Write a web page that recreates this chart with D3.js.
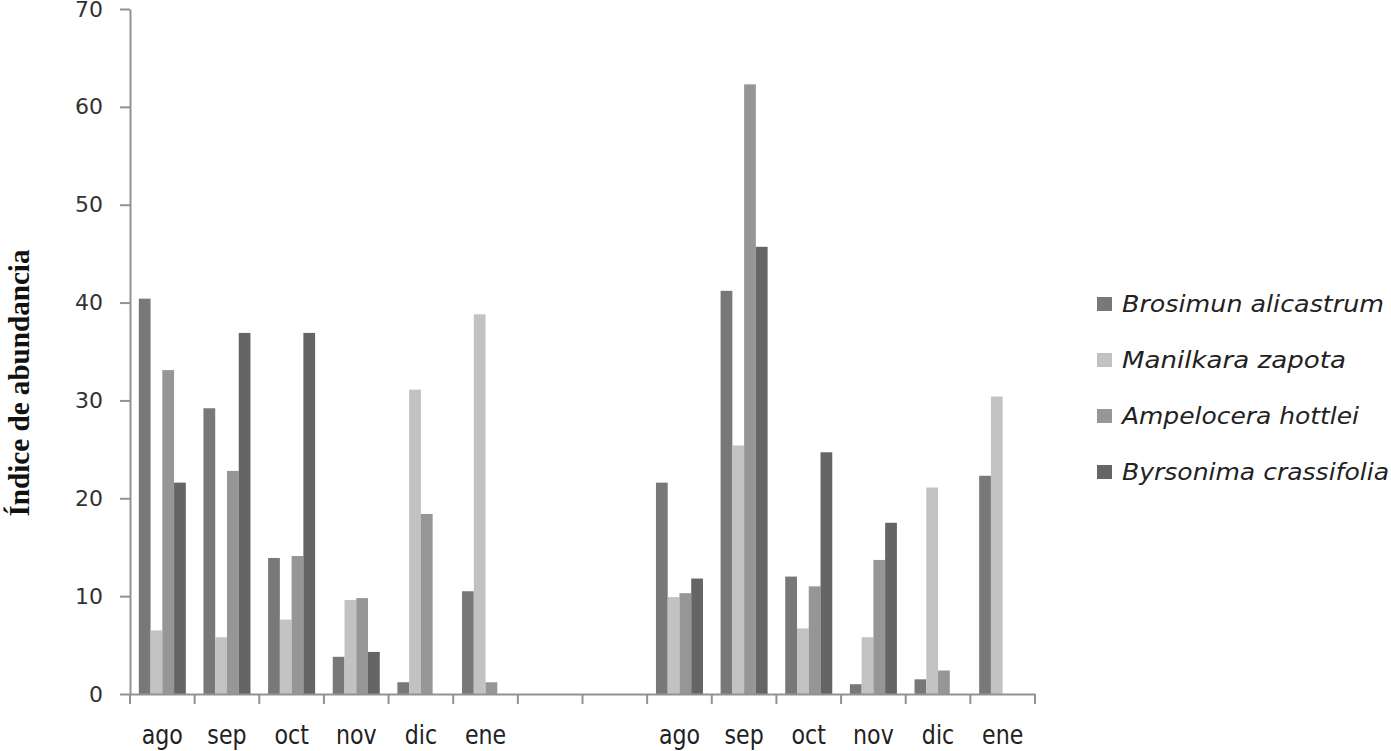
<!DOCTYPE html>
<html>
<head>
<meta charset="utf-8">
<script src="https://cdn.jsdelivr.net/npm/d3@7"></script>
<style>
  html, body { margin: 0; padding: 0; background: #fff; }
  svg { display: block; }
</style>
</head>
<body>
<svg id="chart" width="1391" height="751"></svg>
<script>
// ---- data ----
const categories = ["ago","sep","oct","nov","dic","ene","","","ago","sep","oct","nov","dic","ene"];
const seriesNames = ["Brosimun alicastrum","Manilkara zapota","Ampelocera hottlei","Byrsonima crassifolia"];
const brosimun   = [40.4, 29.2, 13.9, 3.8, 1.2, 10.5, null, null, 21.6, 41.2, 12.0, 1.0, 1.5, 22.3];
const manilkara  = [6.5, 5.8, 7.6, 9.6, 31.1, 38.8, null, null, 9.9, 25.4, 6.7, 5.8, 21.1, 30.4];
const ampelocera = [33.1, 22.8, 14.1, 9.8, 18.4, 1.2, null, null, 10.3, 62.3, 11.0, 13.7, 2.4, 0];
const byrsonima  = [21.6, 36.9, 36.9, 4.3, 0, 0, null, null, 11.8, 45.7, 24.7, 17.5, 0, 0];
const yTicks = [0, 10, 20, 30, 40, 50, 60, 70];
const seriesColors = ["#787878", "#c2c2c2", "#969696", "#656565"];

const seriesValues = [brosimun, manilkara, ampelocera, byrsonima];

// ---- layout ----
const svg = d3.select("#chart");
const pLeft = 130, pRight = 1035, pTop = 9, pBottom = 694;
const axisColor = "#929292";

const x = d3.scaleBand().domain(d3.range(categories.length)).range([pLeft, pRight]).paddingInner(0).paddingOuter(0);
const x1 = d3.scaleBand().domain(d3.range(seriesNames.length)).range([0, x.bandwidth()]).paddingInner(0).paddingOuter(0.75);
const y = d3.scaleLinear().domain([0, 70]).range([pBottom, pTop]);

// bars
const groups = svg.append("g").selectAll("g")
  .data(categories.map((c, i) => i))
  .join("g")
  .attr("transform", i => `translate(${x(i)},0)`);

groups.selectAll("rect")
  .data(i => seriesValues.map((vals, s) => ({ s, v: vals[i] })).filter(d => d.v != null))
  .join("rect")
  .attr("x", d => x1(d.s))
  .attr("width", x1.bandwidth())
  .attr("y", d => y(d.v))
  .attr("height", d => y(0) - y(d.v))
  .attr("fill", d => seriesColors[d.s]);

// y axis
const yAxis = svg.append("g")
  .attr("transform", `translate(${pLeft},0)`)
  .call(d3.axisLeft(y).tickValues(yTicks).tickSize(10).tickPadding(17).tickSizeOuter(0));
yAxis.select(".domain").attr("stroke", axisColor).attr("stroke-width", 2);
yAxis.selectAll(".tick line").attr("stroke", axisColor).attr("stroke-width", 2);
yAxis.selectAll(".tick text")
  .attr("font-family", "DejaVu Sans, Verdana, sans-serif")
  .attr("font-size", 22)
  .attr("fill", "#333");

// x axis
const xAxis = svg.append("g")
  .attr("transform", `translate(0,${pBottom})`)
  .call(d3.axisBottom(x).tickSize(0).tickSizeOuter(0).tickFormat(i => categories[i]));
xAxis.select(".domain").attr("stroke", axisColor).attr("stroke-width", 2);
xAxis.selectAll(".tick text")
  .attr("font-family", "DejaVu Sans, Verdana, sans-serif")
  .attr("font-size", 27)
  .attr("fill", "#222")
  .attr("y", 50)
  .attr("dy", 0)
  .each(function() {
    const w = this.getComputedTextLength();
    if (w > 0) {
      d3.select(this).attr("textLength", w * 0.82).attr("lengthAdjust", "spacingAndGlyphs");
    }
  });

// x boundary ticks
const bounds = d3.range(categories.length).map(i => x(i)).concat([x(categories.length - 1) + x.bandwidth()]);
svg.append("g").selectAll("line")
  .data(bounds)
  .join("line")
  .attr("x1", d => d).attr("x2", d => d)
  .attr("y1", pBottom).attr("y2", pBottom + 10)
  .attr("stroke", axisColor).attr("stroke-width", 2);

// y title
svg.append("text")
  .attr("transform", "translate(29,383) rotate(-90)")
  .attr("text-anchor", "middle")
  .attr("font-family", "Liberation Serif, Times New Roman, serif")
  .attr("font-weight", "bold")
  .attr("font-size", 29)
  .attr("fill", "#111")
  .attr("textLength", 267)
  .attr("lengthAdjust", "spacingAndGlyphs")
  .text("Índice de abundancia");

// legend
const legendY = d3.scalePoint().domain(d3.range(seriesNames.length)).range([304, 472]);
const leg = svg.append("g").selectAll("g")
  .data(seriesNames.map((n, i) => i))
  .join("g")
  .attr("transform", i => `translate(1097,${legendY(i)})`);
leg.append("rect")
  .attr("x", 0).attr("y", -7)
  .attr("width", 15).attr("height", 14)
  .attr("fill", i => seriesColors[i]);
const legendWidths = [262, 224, 237, 267];
leg.append("text")
  .attr("x", 25)
  .attr("y", 0)
  .attr("dy", "0.36em")
  .attr("font-family", "DejaVu Sans, Verdana, sans-serif")
  .attr("font-style", "italic")
  .attr("font-size", 23)
  .attr("fill", "#222")
  .attr("textLength", i => legendWidths[i])
  .attr("lengthAdjust", "spacingAndGlyphs")
  .text(i => seriesNames[i]);
</script>
</body>
</html>
